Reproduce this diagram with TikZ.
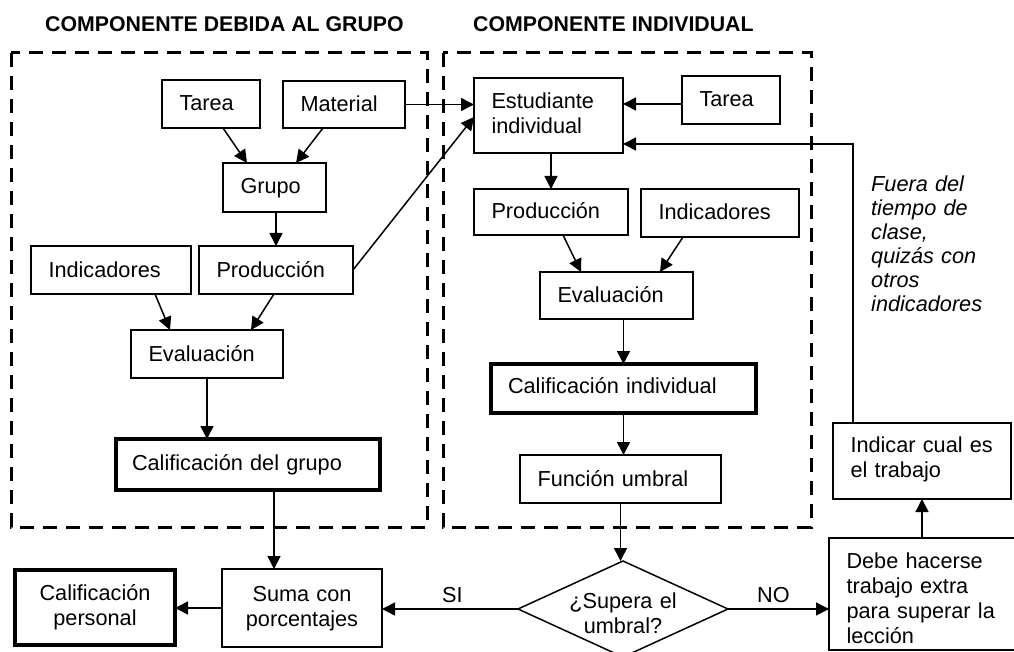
\documentclass[tikz,border=0pt]{standalone}
\usepackage{fontspec}
\setmainfont{Liberation Sans}
\usetikzlibrary{arrows.meta,shapes.geometric,calc}
\begin{document}
\begin{tikzpicture}[x=1pt,y=-1pt,
  font=\fontsize{21.7pt}{25pt}\selectfont,
  box/.style={draw, line width=1.5pt, rectangle, anchor=north west, outer sep=0pt,
    inner xsep=17.5pt, inner ysep=0pt, align=left},
  thickbox/.style={box, line width=4pt, inner xsep=16pt},
  dims/.style n args={3}{text width=#1, text height=#2, text depth=#3},
  arr/.style={line width=1.5pt, -{Triangle[length=13pt,width=13pt]}},
  frame/.style={line width=3pt, dash pattern=on 14pt off 9pt},
  title/.style={anchor=base west, inner sep=0pt, font=\bfseries\fontsize{21.3pt}{25pt}\selectfont},
  lbl/.style={anchor=base west, inner sep=0pt},
]
\useasboundingbox (0,0) rectangle (1014,652);

% dashed frames
\draw[frame] (11,53) rectangle (427,527);
\draw[frame] (443,53) rectangle (811,527);

% titles
\node[title] (t1) at (45,32) {COMPONENTE DEBIDA AL GRUPO};
\node[title] (t2) at (473,32) {COMPONENTE INDIVIDUAL};

% left component
\node[box, dims={63pt}{31pt}{17pt}] (tareaL) at (162,80) {Tarea};
\node[box, dims={87pt}{31pt}{16pt}] (material) at (283,81) {Material};
\node[box, dims={68pt}{31pt}{18pt}] (grupo) at (223,163) {Grupo};
\node[box, dims={125pt}{31pt}{17pt}] (indL) at (31,246) {Indicadores};
\node[box, dims={119pt}{31pt}{17pt}] (prodL) at (199,246) {Producción};
\node[box, dims={117pt}{31pt}{17pt}] (evalL) at (131,330) {Evaluación};
\node[thickbox, dims={232pt}{31pt}{20pt}] (calG) at (116,439) {Calificación del grupo};

% bottom left
\node[thickbox, align=center, inner xsep=17.5pt, dims={125pt}{30.5pt}{44.5pt}] (calP) at (15,570) {Calificación\\personal};
\node[box, align=center, dims={125pt}{32.5pt}{45.5pt}] (suma) at (222,569) {Suma con\\porcentajes};

% right component
\node[box, dims={114pt}{30.5pt}{44.5pt}] (estud) at (474,78) {Estudiante\\individual};
\node[box, dims={63pt}{31pt}{17pt}] (tareaR) at (682,76) {Tarea};
\node[box, dims={119pt}{30pt}{16pt}] (prodR) at (474,189) {Producción};
\node[box, dims={123pt}{31pt}{17pt}] (indR) at (641,189) {Indicadores};
\node[box, dims={118pt}{30pt}{17pt}] (evalR) at (540,272) {Evaluación};
\node[thickbox, inner xsep=17pt, dims={231pt}{29pt}{20pt}] (calI) at (491,364) {Calificación individual};
\node[box, dims={166pt}{31pt}{17pt}] (func) at (520,455) {Función umbral};

% decision
\node[draw, line width=1.5pt, shape=diamond, aspect=2.1875, minimum width=210pt,
  minimum height=96pt, inner sep=0pt, outer sep=0pt, align=center,
  text width=116pt, text height=20pt, text depth=22pt] (dia) at (623,609) {¿Supera el\\umbral?};

% far right
\node[box, dims={143pt}{29.5pt}{46.5pt}] (indicar) at (833,423) {Indicar cual es\\el trabajo};
\node[box, dims={156pt}{30pt}{82pt}] (debe) at (829,538) {Debe hacerse\\trabajo extra\\para superar la\\lección};

\node[anchor=base west, text width=140pt, align=left, inner sep=0pt,
  font=\itshape\fontsize{21.7pt}{24pt}\selectfont] (fuera) at (871,192)
  {Fuera del\\tiempo de\\clase,\\quizás con\\otros\\indicadores};

\node[lbl] (si) at (442,602) {SI};
\node[lbl] (no) at (757,602) {NO};

% connectors, left
\draw[arr] ([xshift=12pt]tareaL.south) -- ([xshift=-27.5pt]grupo.north);
\draw[arr] ([xshift=-21pt]material.south) -- ([xshift=21.5pt]grupo.north);
\draw[arr] (prodL.north |- grupo.south) -- (prodL.north);
\draw[arr] ([xshift=44pt]indL.south) -- ([xshift=-37pt]evalL.north);
\draw[arr] ([xshift=-2pt]prodL.south) -- ([xshift=44pt]evalL.north);
\draw[arr] (evalL.south) -- (evalL.south |- calG.north);
\draw[arr] ([xshift=26pt]calG.south) -- ([xshift=26pt]calG.south |- suma.north);
\draw[arr] (suma.west) -- (suma.west -| calP.east);

% cross connectors
\draw[arr] (material.east) -- (material.east -| estud.west);
\draw[arr] (prodL.east) -- ([yshift=-1.5pt]estud.west);

% connectors, right
\draw[arr] ([yshift=-4pt]tareaR.west) -- ([yshift=-4pt]tareaR.west -| estud.east);
\draw[arr] (prodR.north |- estud.south) -- (prodR.north);
\draw[arr] ([xshift=12pt]prodR.south) -- ([xshift=-35.5pt]evalR.north);
\draw[arr] ([xshift=-37pt]indR.south) -- ([xshift=43.5pt]evalR.north);
\draw[arr] (calI.north |- evalR.south) -- (calI.north);
\draw[arr] (calI.south) -- (calI.south |- func.north);
\draw[arr] (func.south) -- (func.south |- dia.north);

% decision outcomes
\draw[arr] (dia.west) -- (dia.west -| suma.east);
\draw[arr] (dia.east) -- (dia.east -| debe.west);
\draw[arr] (indicar.south |- debe.north) -- (indicar.south);
\draw[arr] ([xshift=-69pt]indicar.north) |- ([yshift=-28.5pt]estud.east);
\end{tikzpicture}
\end{document}
